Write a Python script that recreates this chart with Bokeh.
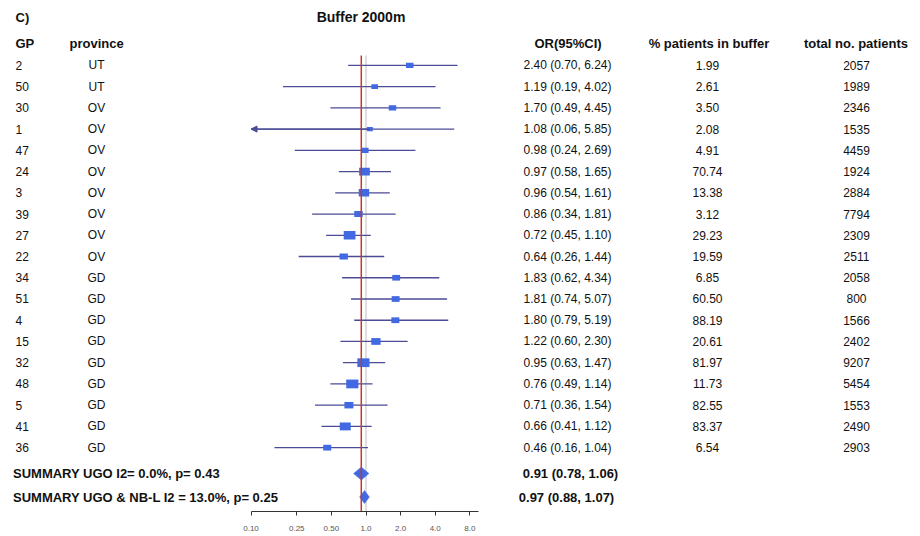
import math
from bokeh.plotting import figure
from bokeh.models import (Range1d, LinearScale, FixedTicker, ColumnDataSource, Arrow,
                          NormalHead, CustomJSTickFormatter)
from bokeh.core.properties import value
from bokeh.embed import file_html
from bokeh.resources import INLINE

# ---------------- data ----------------
gp = [2, 50, 30, 1, 47, 24, 3, 39, 27, 22, 34, 51, 4, 15, 32, 48, 5, 41, 36]
province = ["UT", "UT", "OV", "OV", "OV", "OV", "OV", "OV", "OV", "OV",
            "GD", "GD", "GD", "GD", "GD", "GD", "GD", "GD", "GD"]
odds = [2.40, 1.19, 1.70, 1.08, 0.98, 0.97, 0.96, 0.86, 0.72, 0.64,
        1.83, 1.81, 1.80, 1.22, 0.95, 0.76, 0.71, 0.66, 0.46]
ci_lo = [0.70, 0.19, 0.49, 0.06, 0.24, 0.58, 0.54, 0.34, 0.45, 0.26,
         0.62, 0.74, 0.79, 0.60, 0.63, 0.49, 0.36, 0.41, 0.16]
ci_hi = [6.24, 4.02, 4.45, 5.85, 2.69, 1.65, 1.61, 1.81, 1.10, 1.44,
         4.34, 5.07, 5.19, 2.30, 1.47, 1.14, 1.54, 1.12, 1.04]
pct_in_buffer = ["1.99", "2.61", "3.50", "2.08", "4.91", "70.74", "13.38", "3.12", "29.23", "19.59",
                 "6.85", "60.50", "88.19", "20.61", "81.97", "11.73", "82.55", "83.37", "6.54"]
total_patients = [2057, 1989, 2346, 1535, 4459, 1924, 2884, 7794, 2309, 2511,
                  2058, 800, 1566, 2402, 9207, 5454, 1553, 2490, 2903]

summary_labels = ["SUMMARY UGO I2= 0.0%, p= 0.43", "SUMMARY UGO & NB-L I2 = 13.0%, p= 0.25"]
summary_or = [0.91, 0.97]
summary_lo = [0.78, 0.88]
summary_hi = [1.06, 1.07]

headers = ["GP", "province", "OR(95%CI)", "% patients in buffer", "total no. patients"]
panel_label = "C)"
title = "Buffer 2000m"
tick_vals = [0.10, 0.25, 0.50, 1.0, 2.0, 4.0, 8.0]

# ---------------- layout constants ----------------
FONT = value("Liberation Sans")
W, H = 920, 533
ONE_PX = 365.5       # page x of OR = 1
DECADE = 115.0       # px per decade
ROW0, ROWH = 65.0, 21.28
TOP, BOTTOM = 0.0, 512.0

def row_of(page_y):
    return (page_y - ROW0) / ROWH

x_start = 10 ** ((0 - ONE_PX) / DECADE)
x_end = 10 ** ((W - ONE_PX) / DECADE)
y_top, y_bot = row_of(TOP), row_of(BOTTOM)

p = figure(width=W, height=H, x_axis_type="log",
           x_range=Range1d(x_start, x_end), y_range=Range1d(y_bot, y_top),
           y_axis_location=None, output_backend="svg", toolbar_location=None,
           min_border=0, outline_line_color=None, background_fill_color="white")
p.extra_x_ranges = {"cols": Range1d(0, W)}
p.extra_x_scales = {"cols": LinearScale()}
p.xgrid.visible = False
p.ygrid.visible = False

ax = p.xaxis[0]
ax.ticker = FixedTicker(ticks=tick_vals, minor_ticks=[])
ax.formatter = CustomJSTickFormatter(code="return tick < 1 ? tick.toFixed(2) : tick.toFixed(1);")
ax.bounds = (0.1, 9.6)
ax.axis_line_color = "#333333"
ax.major_tick_line_color = "#333333"
ax.major_tick_in = 0
ax.major_tick_out = 4
ax.minor_tick_line_color = None
ax.major_label_text_font = "Liberation Sans"
ax.major_label_text_font_size = "8px"
ax.major_label_text_color = "#555555"
ax.major_label_standoff = 10

rows = list(range(len(gp)))
AX_MIN, AX_MAX = 0.1, 9.6
ci_color = "#4b4b96"
box_color = "#4169e1"

# reference line at 1
p.segment(x0=[1.0], x1=[1.0], y0=[row_of(55)], y1=[y_bot], line_color="#d4d4d4", line_width=1.5)

# confidence intervals
seg_src = ColumnDataSource(dict(
    x0=[max(l, AX_MIN) for l in ci_lo], x1=[min(h, AX_MAX) for h in ci_hi], y=rows))
p.segment(x0="x0", x1="x1", y0="y", y1="y", source=seg_src, line_color=ci_color, line_width=1.3)

arr_idx = [i for i, l in enumerate(ci_lo) if l < AX_MIN]
if arr_idx:
    arr_src = ColumnDataSource(dict(xs=[odds[i] for i in arr_idx], xe=[AX_MIN] * len(arr_idx),
                                    y=[rows[i] for i in arr_idx]))
    p.add_layout(Arrow(end=NormalHead(size=6, fill_color=ci_color, line_color=ci_color),
                       x_start="xs", x_end="xe", y_start="y", y_end="y", source=arr_src,
                       line_color=ci_color, line_width=1.3))

# boxes sized by precision (1/SE)
inv_se = [3.92 / math.log(h / l) for l, h in zip(ci_lo, ci_hi)]
box_w = [4.6 + 1.63 * v for v in inv_se]
box_h = [0.72 * w for w in box_w]
p.rect(x=odds, y=rows, width=box_w, height=box_h, width_units="screen", height_units="screen",
       fill_color=box_color, line_color=None)

# summary diamonds
sum_rows = [row_of(474), row_of(497.5)]
half = 6.5 / ROWH
p.patches(xs=[[l, o, h, o] for l, o, h in zip(summary_lo, summary_or, summary_hi)],
          ys=[[r, r - half, r, r + half] for r in sum_rows],
          fill_color=box_color, line_color=box_color, line_width=0.5)

# summary estimate line
p.segment(x0=[summary_or[0]], x1=[summary_or[0]], y0=[row_of(55)], y1=[y_bot],
          line_color="#c8372d", line_width=1.5)

# ---------------- texts ----------------
def txt(xs, ys, texts, align="left", size="12px", bold=False, color="#111111"):
    p.text(x=xs, y=ys, text=texts, x_range_name="cols", text_font=FONT,
           text_font_size=size, text_align=align, text_baseline="middle",
           text_font_style="bold" if bold else "normal", text_color=color)

y_title, y_head = row_of(17), row_of(43)
txt([15], [y_title], [panel_label], size="13px", bold=True)
txt([360.5], [y_title], [title], align="center", size="14px", bold=True)

txt([15], [y_head], [headers[0]], size="13px", bold=True)
txt([69], [y_head], [headers[1]], size="13px", bold=True)
txt([567.5, 708.5, 855.5], [y_head] * 3, headers[2:], align="center", size="13px", bold=True)

txt([15] * len(rows), rows, [str(g) for g in gp])
txt([96] * len(rows), rows, province, align="center")
txt([567] * len(rows), rows,
    [f"{o:.2f} ({l:.2f}, {h:.2f})" for o, l, h in zip(odds, ci_lo, ci_hi)], align="center")
txt([707] * len(rows), rows, pct_in_buffer, align="center")
txt([856] * len(rows), rows, [str(t) for t in total_patients], align="center")

txt([12.5, 12.5], [row_of(474), row_of(498)], summary_labels, size="13px", bold=True)
txt([570, 566], [row_of(474), row_of(498)],
    [f"{o:.2f} ({l:.2f}, {h:.2f})" for o, l, h in zip(summary_or, summary_lo, summary_hi)],
    align="center", size="13px", bold=True)

open("out.html", "w").write(file_html(p, INLINE))
